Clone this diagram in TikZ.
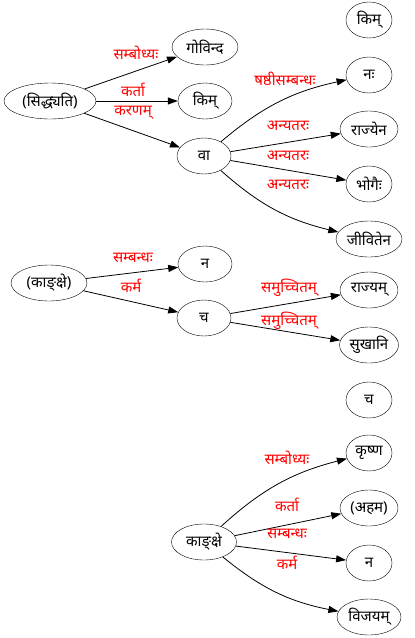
\documentclass[tikz,border=0pt]{standalone}
\usepackage{fontspec}
\setmainfont[Script=Devanagari]{Noto Sans}
\usetikzlibrary{shapes.geometric,arrows.meta}
\begin{document}
\begin{tikzpicture}[x=1pt,y=-1pt,
  nd/.style={draw,ellipse,inner sep=0pt,minimum height=36pt,font=\fontsize{15}{17}\selectfont},
  lab/.style={text=red,inner sep=0pt,yshift=4pt,font=\fontsize{15}{17}\selectfont},
  ar/.style={-{Triangle[length=10pt,width=7pt]},line width=0.8pt}]
\useasboundingbox (0,0) rectangle (415,638);
% group 1
\node[nd,minimum width=92pt] (sid) at (50,101) {(सिद्ध्यति)};
\node[nd,minimum width=66pt] (gov) at (205,47) {गोविन्द};
\node[nd,minimum width=54pt] (kim1) at (205,101) {किम्};
\node[nd,minimum width=54pt] (va) at (204,156) {वा};
\node[nd,minimum width=46pt] (kim2) at (369,20) {किम्};
\node[nd,minimum width=46pt] (nah) at (369,75) {नः};
\node[nd,minimum width=58pt] (rajyena) at (369,129) {राज्येन};
\node[nd,minimum width=46pt] (bhog) at (369,184) {भोगैः};
\node[nd,minimum width=66pt] (jiv) at (369,239) {जीवितेन};
\draw[ar] (sid) -- (gov);
\draw[ar] (sid) -- (kim1);
\draw[ar] (sid) -- (va);
\draw[ar] (va) to[bend left=14] (nah);
\draw[ar] (va) -- (rajyena);
\draw[ar] (va) -- (bhog);
\draw[ar] (va) to[bend right=14] (jiv);
\node[lab] (l1) at (136,57) {सम्बोध्यः};
\node[lab] (l2) at (133,94) {कर्ता};
\node[lab] (l3) at (133,117) {करणम्};
\node[lab] (l4) at (285,83) {षष्ठीसम्बन्धः};
\node[lab] (l5) at (288,130) {अन्यतरः};
\node[lab] (l6) at (288,160) {अन्यतरः};
\node[lab] (l7) at (288,189) {अन्यतरः};
% group 2
\node[nd,minimum width=76pt] (kank1) at (49,283) {(काङ्क्षे)};
\node[nd,minimum width=54pt] (na1) at (205,264) {न};
\node[nd,minimum width=54pt] (cha1) at (204,318) {च};
\node[nd,minimum width=58pt] (rajyam) at (369,290) {राज्यम्};
\node[nd,minimum width=59pt] (sukh) at (369,345) {सुखानि};
\node[nd,minimum width=46pt] (cha2) at (369,400) {च};
\draw[ar] (kank1) -- (na1);
\draw[ar] (kank1) -- (cha1);
\draw[ar] (cha1) -- (rajyam);
\draw[ar] (cha1) -- (sukh);
\node[lab] (l8) at (133,262) {सम्बन्धः};
\node[lab] (l9) at (131,290) {कर्म};
\node[lab] (l10) at (289,292) {समुच्चितम्};
\node[lab] (l11) at (289,325) {समुच्चितम्};
% group 3
\node[nd,minimum width=65pt] (kank2) at (204,542) {काङ्क्षे};
\node[nd,minimum width=46pt] (krsna) at (369,453) {कृष्ण};
\node[nd,minimum width=58pt] (aham) at (369,508) {(अहम)};
\node[nd,minimum width=46pt] (na2) at (369,563) {न};
\node[nd,minimum width=64pt] (vij) at (369,617) {विजयम्};
\draw[ar] (kank2) to[bend left=14] (krsna);
\draw[ar] (kank2) -- (aham);
\draw[ar] (kank2) -- (na2);
\draw[ar] (kank2) to[bend right=14] (vij);
\node[lab] (l12) at (287,462) {सम्बोध्यः};
\node[lab] (l13) at (287,509) {कर्ता};
\node[lab] (l14) at (287,538) {सम्बन्धः};
\node[lab] (l15) at (287,567) {कर्म};
\end{tikzpicture}
\end{document}
